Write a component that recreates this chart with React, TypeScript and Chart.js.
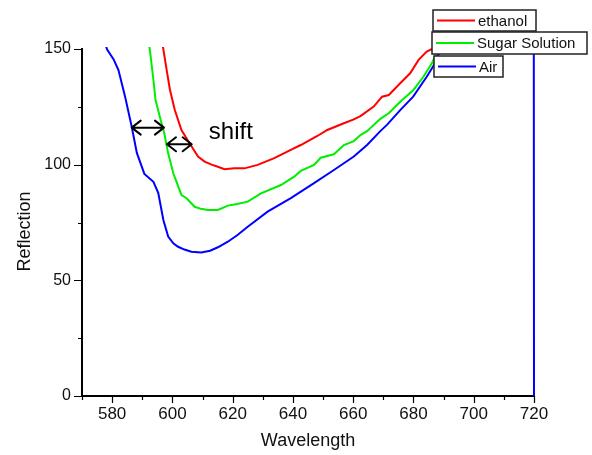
import React, { useEffect, useRef } from "react";
import { Chart, registerables } from "chart.js";

Chart.register(...registerables);

// ---- data ----
const ethanolWl = [595, 597.0, 598.1, 599.2, 600.8, 603.0, 605.7, 608.5, 610.7, 613.0, 615.1, 617.3, 620.5, 623.9, 628.3, 633.8, 639.3, 642.6, 648.1, 651.4, 656.9, 660.0, 662.4, 666.8, 669.6, 671.8, 675.6, 678.9, 681.7, 684.4, 686.2, 690, 695];
const ethanolVal = [165, 149.9, 140.9, 132.3, 123.6, 115.0, 109.3, 103.5, 101.3, 100.0, 99.1, 98.0, 98.4, 98.4, 99.9, 102.8, 106.4, 108.5, 112.4, 115.0, 117.9, 119.5, 121.0, 125.1, 129.4, 130.1, 135.2, 139.5, 145.3, 148.9, 150.0, 157, 168];

const sugarWl = [590, 592.5, 593.7, 594.4, 595.8, 597.3, 598.6, 600.3, 603.0, 604.7, 607.4, 609.5, 611.8, 615.1, 618.4, 621.5, 625.0, 629.4, 636.0, 640.4, 642.6, 647.0, 649.2, 653.6, 656.9, 660.2, 662.4, 664.6, 669.0, 671.8, 675.6, 680.0, 683.3, 686.1, 688.2, 692, 697];
const sugarVal = [165, 149.9, 136.6, 128.0, 120.8, 113.6, 104.9, 96.3, 86.9, 85.5, 81.8, 80.9, 80.4, 80.4, 82.3, 83.0, 84.0, 87.6, 91.2, 94.8, 97.3, 99.9, 103.0, 104.5, 108.5, 110.2, 112.8, 114.5, 119.8, 122.2, 127.2, 132.3, 138.0, 143.8, 150.0, 157, 168];

const airWl = [576, 578.3, 580.5, 582.1, 584.3, 586.5, 588.2, 590.7, 593.7, 595.3, 597.0, 598.6, 600.3, 601.9, 604.0, 606.3, 609.6, 612.5, 615.1, 618.4, 621.5, 625.0, 631.6, 639.3, 647.0, 653.6, 660.2, 664.6, 669.0, 671.2, 675.6, 679.9, 684.4, 686.5, 689.1, 695, 705, 719.9, 720];
const airVal = [160, 149.9, 145.5, 140.9, 129.4, 116.4, 105.1, 96.0, 92.6, 87.8, 76.1, 68.9, 66.0, 64.5, 63.3, 62.4, 62.0, 62.8, 64.3, 66.7, 69.5, 73.2, 79.7, 85.5, 92.0, 97.7, 103.5, 108.5, 114.5, 117.2, 123.6, 129.4, 138.0, 142.4, 150.0, 163, 185, 220, 0];

const seriesNames = ["ethanol", "Sugar Solution", "Air"];
const seriesColors = ["#ff0000", "#00ee00", "#0000ff"];

// annotation: double arrows [fromWl, toWl, value]
const shiftArrows = [
  [586.5, 597.2, 116.0],
  [598.2, 606.4, 108.8],
];
const shiftLabel = { text: "shift", wl: 612.1, value: 110.9 };

const xTitle = "Wavelength";
const yTitle = "Reflection";

const xMin = 570;
const xMax = 720;
const xStep = 10;
const xLabelEvery = 20;
const yMin = 0;
const yMax = 150;
const yStep = 25;
const yLabelEvery = 50;

const FONT = "Arial, 'Liberation Sans', sans-serif";

function toPoints(xs: number[], ys: number[]) {
  return xs.map((x, i) => ({ x, y: ys[i] }));
}

const annotationPlugin = {
  id: "shiftAnnot",
  afterDatasetsDraw(chart: any) {
    const { ctx, scales } = chart;
    const xs = scales.x;
    const ys = scales.y;
    ctx.save();
    ctx.strokeStyle = "#000";
    ctx.lineWidth = 2;
    ctx.lineCap = "round";
    ctx.lineJoin = "round";
    for (const [a, b, v] of shiftArrows) {
      const x1 = xs.getPixelForValue(a);
      const x2 = xs.getPixelForValue(b);
      const y = ys.getPixelForValue(v);
      const h = 7;
      const l = 9;
      ctx.beginPath();
      ctx.moveTo(x1, y);
      ctx.lineTo(x2, y);
      ctx.moveTo(x1 + l, y - h);
      ctx.lineTo(x1, y);
      ctx.lineTo(x1 + l, y + h);
      ctx.moveTo(x2 - l, y - h);
      ctx.lineTo(x2, y);
      ctx.lineTo(x2 - l, y + h);
      ctx.stroke();
    }
    ctx.fillStyle = "#000";
    ctx.font = `24px ${FONT}`;
    ctx.textBaseline = "alphabetic";
    ctx.textAlign = "left";
    ctx.fillText(
      shiftLabel.text,
      xs.getPixelForValue(shiftLabel.wl),
      ys.getPixelForValue(shiftLabel.value)
    );
    ctx.restore();
  },
};

const ticksPlugin = {
  id: "axisTicks",
  afterDraw(chart: any) {
    const { ctx, scales, chartArea } = chart;
    const xs = scales.x;
    const ys = scales.y;
    ctx.save();
    ctx.strokeStyle = "#000";
    ctx.lineWidth = 1.2;
    ctx.beginPath();
    for (let v = xMin; v <= xMax + 1e-9; v += xStep) {
      const px = Math.round(xs.getPixelForValue(v)) + 0.5;
      const len = v % xLabelEvery === 0 ? 7 : 4;
      ctx.moveTo(px, chartArea.bottom);
      ctx.lineTo(px, chartArea.bottom + len);
    }
    for (let v = yMin; v <= yMax + 1e-9; v += yStep) {
      const py = Math.round(ys.getPixelForValue(v)) + 0.5;
      const len = v % yLabelEvery === 0 ? 8 : 4;
      ctx.moveTo(chartArea.left, py);
      ctx.lineTo(chartArea.left - len, py);
    }
    ctx.stroke();
    // y title
    ctx.fillStyle = "#111";
    ctx.font = `18px ${FONT}`;
    ctx.textAlign = "center";
    ctx.textBaseline = "middle";
    ctx.translate(25, (chartArea.top + chartArea.bottom) / 2 + 9);
    ctx.rotate(-Math.PI / 2);
    ctx.fillText(yTitle, 0, 0);
    ctx.restore();
  },
};

const legendBoxes = [
  { x: 433, y: 10, w: 103, h: 21 },
  { x: 432, y: 32, w: 155, h: 22 },
  { x: 434, y: 56, w: 69, h: 21 },
];

const legendPlugin = {
  id: "boxLegend",
  afterDraw(chart: any) {
    const { ctx } = chart;
    ctx.save();
    ctx.font = `15px ${FONT}`;
    ctx.textBaseline = "middle";
    ctx.textAlign = "left";
    seriesNames.forEach((name, i) => {
      const b = legendBoxes[i];
      ctx.fillStyle = "#fff";
      ctx.fillRect(b.x, b.y, b.w, b.h);
      ctx.strokeStyle = "#222";
      ctx.lineWidth = 1.5;
      ctx.strokeRect(b.x, b.y, b.w, b.h);
      const cy = b.y + b.h / 2;
      ctx.strokeStyle = seriesColors[i];
      ctx.lineWidth = 2;
      ctx.beginPath();
      ctx.moveTo(b.x + 4, cy);
      ctx.lineTo(b.x + 42, cy);
      ctx.stroke();
      ctx.fillStyle = "#111";
      ctx.fillText(name, b.x + 45, cy + 1);
    });
    ctx.restore();
  },
};

export default function App() {
  const ref = useRef<HTMLCanvasElement>(null);
  useEffect(() => {
    if (!ref.current) return;
    const datasets = [
      toPoints(ethanolWl, ethanolVal),
      toPoints(sugarWl, sugarVal),
      toPoints(airWl, airVal),
    ].map((data, i) => ({
      label: seriesNames[i],
      data,
      borderColor: seriesColors[i],
      backgroundColor: seriesColors[i],
      borderWidth: 2,
      pointRadius: 0,
      tension: 0,
      fill: false,
      clip: { left: 2, top: 2, right: 3, bottom: 2 },
    }));
    const chart = new Chart(ref.current, {
      type: "line",
      data: { datasets },
      options: {
        animation: false,
        responsive: false,
        maintainAspectRatio: false,
        layout: { padding: { left: 0, top: 49, right: 58, bottom: 0 } },
        plugins: { legend: { display: false }, tooltip: { enabled: false } },
        scales: {
          x: {
            type: "linear",
            min: xMin,
            max: xMax,
            afterFit: (s: any) => {
              s.height = 59;
            },
            border: { display: true, color: "#000", width: 2 },
            grid: { drawOnChartArea: false, drawTicks: false },
            ticks: {
              stepSize: xStep,
              autoSkip: false,
              maxRotation: 0,
              padding: 8,
              color: "#111",
              font: { size: 17, family: FONT },
              callback: (v: any) => (Number(v) % xLabelEvery === 0 ? String(v) : ""),
            },
            title: {
              display: true,
              text: xTitle,
              color: "#111",
              font: { size: 18, family: FONT },
              padding: { top: 0, bottom: 3 },
            },
          },
          y: {
            min: yMin,
            max: yMax,
            afterFit: (s: any) => {
              s.width = 82;
            },
            border: { display: true, color: "#000", width: 2 },
            grid: { drawOnChartArea: false, drawTicks: false },
            ticks: {
              stepSize: yStep,
              autoSkip: false,
              padding: 11,
              color: "#111",
              font: { size: 16, family: FONT },
              callback: (v: any) => (Number(v) % yLabelEvery === 0 ? String(v) : ""),
            },
            title: { display: false },
          },
        },
      },
      plugins: [annotationPlugin, ticksPlugin, legendPlugin],
    });
    return () => chart.destroy();
  }, []);
  return (
    <div style={{ position: "fixed", left: 0, top: 0, width: 592, height: 455, background: "#fff" }}>
      <canvas ref={ref} width={592} height={455} />
    </div>
  );
}
